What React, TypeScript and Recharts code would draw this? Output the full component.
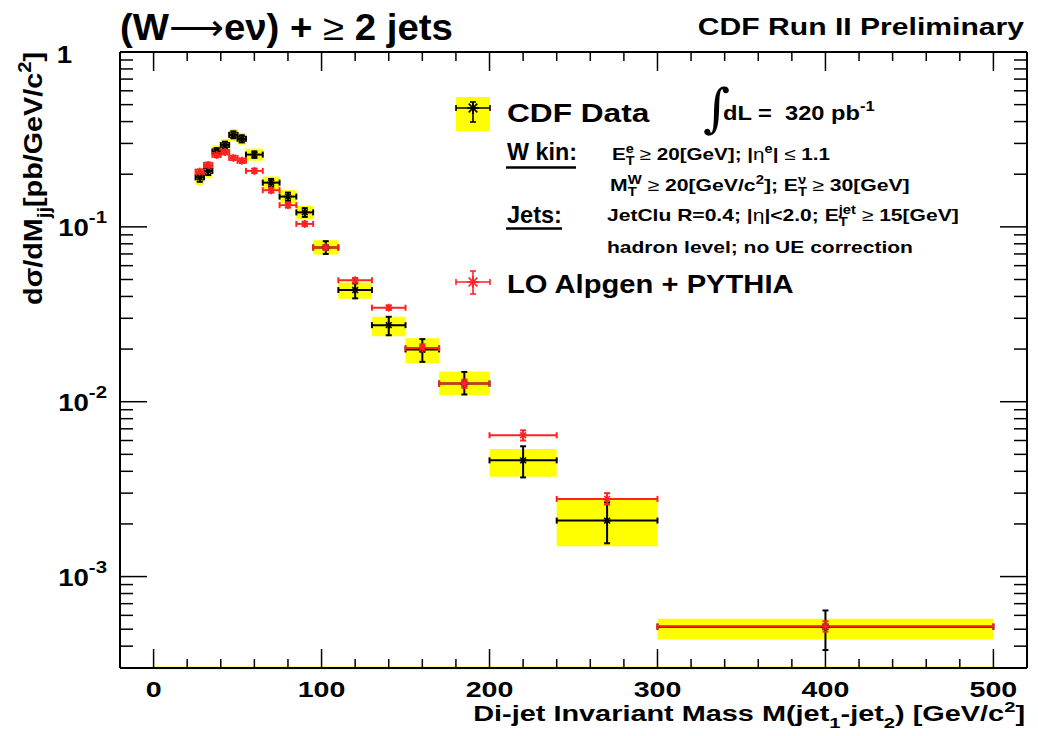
import React, { useLayoutEffect, useRef, useState } from 'react';
import { ComposedChart, Scatter, XAxis, YAxis, ErrorBar, ReferenceArea, ReferenceLine } from 'recharts';

const FONT = '"Liberation Sans", Arial, Helvetica, sans-serif';
const YELLOW = '#ffff00';
const RED = '#ff2222';

// ---- data ----
const binLow = [25, 30, 35, 40, 45, 50, 55, 65, 75, 85, 95, 110, 130, 150, 170, 200, 240, 300];
const binHigh = [30, 35, 40, 45, 50, 55, 65, 75, 85, 95, 110, 130, 150, 170, 200, 240, 300, 500];

const dataVal = [0.192, 0.209, 0.27, 0.294, 0.336, 0.319, 0.259, 0.179, 0.149, 0.121, 0.0762, 0.0435, 0.0274, 0.0199, 0.0127, 0.00462, 0.00209, 0.000516];
const dataStatLo = [0.181, 0.198, 0.258, 0.281, 0.321, 0.304, 0.248, 0.17, 0.141, 0.114, 0.07, 0.039, 0.024, 0.0169, 0.011, 0.00369, 0.00155, 0.00038];
const dataStatHi = [0.203, 0.22, 0.282, 0.307, 0.352, 0.334, 0.27, 0.188, 0.157, 0.128, 0.0828, 0.0475, 0.0306, 0.0228, 0.0148, 0.00556, 0.00265, 0.00064];
const dataSysLo = [0.174, 0.19, 0.25, 0.272, 0.311, 0.295, 0.239, 0.165, 0.137, 0.111, 0.0695, 0.0388, 0.0237, 0.0166, 0.0109, 0.00372, 0.00149, 0.000437];
const dataSysHi = [0.212, 0.228, 0.292, 0.318, 0.362, 0.344, 0.28, 0.194, 0.162, 0.132, 0.0839, 0.048, 0.0306, 0.0231, 0.0149, 0.00537, 0.00275, 0.000573];

const mcVal = [0.207, 0.226, 0.258, 0.268, 0.248, 0.239, 0.209, 0.162, 0.133, 0.104, 0.0762, 0.0495, 0.0345, 0.0203, 0.0127, 0.00643, 0.00278, 0.00052];
const mcLo = [0.201, 0.219, 0.25, 0.26, 0.241, 0.232, 0.203, 0.157, 0.129, 0.101, 0.074, 0.048, 0.0335, 0.0193, 0.012, 0.006, 0.00258, 0.000485];
const mcHi = [0.213, 0.233, 0.266, 0.276, 0.255, 0.246, 0.215, 0.167, 0.137, 0.107, 0.0785, 0.051, 0.0355, 0.0213, 0.0134, 0.00686, 0.003, 0.000555];

// ---- axes ----
const xDomain = [-20, 520];
const yDomain = [0.0003, 1];
const xMajorTicks = [0, 100, 200, 300, 400, 500];
const xTicks = [0, 20, 40, 60, 80, 100, 120, 140, 160, 180, 200, 220, 240, 260, 280, 300, 320, 340, 360, 380, 400, 420, 440, 460, 480, 500];
const yMajorTicks = [0.001, 0.01, 0.1, 1];
const yMajorExp = ['-3', '-2', '-1', ''];
const yTicks = [
  0.0003, 0.0004, 0.0005, 0.0006, 0.0007, 0.0008, 0.0009,
  0.001, 0.002, 0.003, 0.004, 0.005, 0.006, 0.007, 0.008, 0.009,
  0.01, 0.02, 0.03, 0.04, 0.05, 0.06, 0.07, 0.08, 0.09,
  0.1, 0.2, 0.3, 0.4, 0.5, 0.6, 0.7, 0.8, 0.9, 1,
];
const bandLine = [0, 500];

const dataRows = binLow.map((lo, i) => ({
  x: (lo + binHigh[i]) / 2,
  y: dataVal[i],
  ex: (binHigh[i] - lo) / 2,
  ey: [dataVal[i] - dataStatLo[i], dataStatHi[i] - dataVal[i]],
  x1: lo,
  x2: binHigh[i],
  s1: dataSysLo[i],
  s2: dataSysHi[i],
}));
const mcRows = binLow.map((lo, i) => ({
  x: (lo + binHigh[i]) / 2,
  y: mcVal[i],
  ex: (binHigh[i] - lo) / 2,
  ey: [mcVal[i] - mcLo[i], mcHi[i] - mcVal[i]],
}));

// ---- text helpers ----
type Seg = { t: string; s?: number; r?: number; dx?: number; w?: string; f?: string };

function Segs({ segs, size }: { segs: Seg[]; size: number }) {
  let prev = 0;
  return (
    <>
      {segs.map((g, i) => {
        const s = g.s ?? 0;
        const dy = (prev - s) * size;
        prev = s;
        return (
          <tspan key={i} dy={dy === 0 ? undefined : dy} dx={g.dx} fontSize={size * (g.r ?? 1)} fontWeight={g.w} fontFamily={g.f}>
            {g.t}
          </tspan>
        );
      })}
    </>
  );
}

function FitText({ x, y, width, anchor = 'start', size, rotate = 0, segs }: any) {
  const ref = useRef<SVGTextElement>(null);
  const [s, setS] = useState(1);
  useLayoutEffect(() => {
    if (width && ref.current) {
      const w = ref.current.getBBox().width;
      if (w > 0) setS(width / w);
    }
  }, [width]);
  return (
    <g transform={`translate(${x},${y}) rotate(${rotate}) scale(${s},1)`}>
      <text ref={ref} textAnchor={anchor} fontFamily={FONT} fontWeight="bold" fontSize={size} fill="#000" style={{ whiteSpace: 'pre' }}>
        <Segs segs={segs} size={size} />
      </text>
    </g>
  );
}

const sub = (t: string, size: number): Seg => ({ t, s: -0.32, r: 0.7 });
const supAfterSub = (t: string, subW: number, size: number): Seg => ({ t, s: 0.42, r: 0.7, dx: -subW * 0.7 * size });
const sup = (t: string): Seg => ({ t, s: 0.42, r: 0.7 });

// ---- markers ----
function Star({ cx, cy, color, r }: { cx: number; cy: number; color: string; r: number }) {
  const d = r * 0.72;
  return (
    <g stroke={color} strokeWidth={1.6}>
      <line x1={cx - r} x2={cx + r} y1={cy} y2={cy} />
      <line x1={cx} x2={cx} y1={cy - r} y2={cy + r} />
      <line x1={cx - d} x2={cx + d} y1={cy - d} y2={cy + d} />
      <line x1={cx - d} x2={cx + d} y1={cy + d} y2={cy - d} />
    </g>
  );
}

// ---- ticks ----
function LeftTick(props: any) {
  const { x, y, payload } = props;
  const v = payload.value as number;
  const idx = yMajorTicks.indexOf(v);
  const major = idx >= 0;
  return (
    <g>
      <line x1={x} x2={x + (major ? 27 : 13)} y1={y} y2={y} stroke="#000" strokeWidth={1.5} />
      {major &&
        (yMajorExp[idx] === '' ? (
          <g transform={`translate(${x - 48},${y + 11}) scale(1.2,1)`}>
            <text textAnchor="end" fontFamily={FONT} fontWeight="bold" fontSize={23} fill="#000">1</text>
          </g>
        ) : (
          <g transform={`translate(${x - 13},${y + 9}) scale(1.2,1)`}>
            <text textAnchor="end" fontFamily={FONT} fontWeight="bold" fontSize={23} fill="#000">
              10<tspan fontSize={17} dy={-13}>{yMajorExp[idx]}</tspan>
            </text>
          </g>
        ))}
    </g>
  );
}
function RightTick(props: any) {
  const { x, y, payload } = props;
  const major = yMajorTicks.includes(payload.value);
  return <line x1={x} x2={x - (major ? 27 : 13)} y1={y} y2={y} stroke="#000" strokeWidth={1.5} />;
}
function BottomTick(props: any) {
  const { x, y, payload } = props;
  const v = payload.value as number;
  const major = xMajorTicks.includes(v);
  return (
    <g>
      <line x1={x} x2={x} y1={y} y2={y - (major ? 19 : 9)} stroke="#000" strokeWidth={1.5} />
      {major && (
        <g transform={`translate(${x},${y + 29}) scale(1.3,1)`}>
          <text textAnchor="middle" fontFamily={FONT} fontWeight="bold" fontSize={22} fill="#000">{v}</text>
        </g>
      )}
    </g>
  );
}
function TopTick(props: any) {
  const { x, y, payload } = props;
  const major = xMajorTicks.includes(payload.value);
  return <line x1={x} x2={x} y1={y} y2={y + (major ? 19 : 9)} stroke="#000" strokeWidth={1.5} />;
}

const axisLine = { stroke: '#000', strokeWidth: 2 };

export default function App() {
  return (
    <div style={{ position: 'relative', width: 1038, height: 736, margin: -8, background: '#fff' }}>
      <ComposedChart width={1038} height={736} margin={{ top: 0, right: 0, bottom: 0, left: 0 }}>
        <XAxis xAxisId="b" type="number" dataKey="x" domain={xDomain} allowDataOverflow ticks={xTicks} interval={0}
          orientation="bottom" height={68} tickSize={0} tickMargin={0} tickLine={false} axisLine={axisLine} tick={<BottomTick />} />
        <XAxis xAxisId="t" type="number" dataKey="x" domain={xDomain} allowDataOverflow ticks={xTicks} interval={0}
          orientation="top" height={52} tickSize={0} tickMargin={0} tickLine={false} axisLine={axisLine} tick={<TopTick />} />
        <YAxis yAxisId="l" type="number" dataKey="y" scale="log" domain={yDomain} allowDataOverflow ticks={yTicks} interval={0}
          orientation="left" width={120} tickSize={0} tickMargin={0} tickLine={false} axisLine={axisLine} tick={<LeftTick />} />
        <YAxis yAxisId="r" type="number" dataKey="y" scale="log" domain={yDomain} allowDataOverflow ticks={yTicks} interval={0}
          orientation="right" width={11} tickSize={0} tickMargin={0} tickLine={false} axisLine={axisLine} tick={<RightTick />} />

        {dataRows.map((r, i) => (
          <ReferenceArea key={i} xAxisId="b" yAxisId="l" x1={r.x1} x2={r.x2} y1={r.s1} y2={r.s2}
            fill={YELLOW} fillOpacity={1} stroke="none" ifOverflow="visible" />
        ))}
        <ReferenceLine xAxisId="b" yAxisId="l" segment={[{ x: bandLine[0], y: yDomain[0] }, { x: bandLine[1], y: yDomain[0] }]}
          stroke={YELLOW} strokeWidth={3} ifOverflow="visible" />

        <Scatter xAxisId="t" yAxisId="r" data={dataRows} isAnimationActive={false} shape={() => <g />} />

        <Scatter xAxisId="b" yAxisId="l" data={dataRows} isAnimationActive={false}
          shape={(p: any) => <Star cx={p.cx} cy={p.cy} color="#000" r={4} />}>
          <ErrorBar dataKey="ex" direction="x" width={3} stroke="#000" strokeWidth={2} />
          <ErrorBar dataKey="ey" direction="y" width={3} stroke="#000" strokeWidth={2} />
        </Scatter>
        <Scatter xAxisId="b" yAxisId="l" data={mcRows} isAnimationActive={false}
          shape={(p: any) => <Star cx={p.cx} cy={p.cy} color={RED} r={4} />}>
          <ErrorBar dataKey="ex" direction="x" width={3} stroke={RED} strokeWidth={2} />
          <ErrorBar dataKey="ey" direction="y" width={3} stroke={RED} strokeWidth={2} />
        </Scatter>
      </ComposedChart>

      <svg width={1038} height={736} style={{ position: 'absolute', left: 0, top: 0, pointerEvents: 'none' }}>
        {/* titles */}
        <FitText x={120} y={40} width={333} size={36}
          segs={[{ t: '(W' }, { t: '⟶', w: 'normal', f: '"DejaVu Sans", sans-serif' }, { t: 'eν' }, { t: ') + ' },
            { t: '≥', w: 'normal' }, { t: ' 2 jets' }]} />
        <FitText x={1024} y={35} width={327} size={24} anchor="end" segs={[{ t: 'CDF Run II Preliminary' }]} />

        {/* axis titles */}
        <FitText x={1025} y={721} width={552} size={22} anchor="end"
          segs={[{ t: 'Di-jet Invariant Mass M(jet' }, sub('1', 22), { t: '-jet' }, sub('2', 22), { t: ') [GeV/c' }, sup('2'), { t: ']' }]} />
        <FitText x={42} y={52} width={253} size={26} anchor="end" rotate={-90}
          segs={[{ t: 'dσ/dM' }, sub('jj', 26), { t: '[pb/GeV/c' }, sup('2'), { t: ']' }]} />

        {/* legend: CDF data */}
        <rect x={456} y={97} width={34} height={34} fill={YELLOW} />
        <g stroke="#000" strokeWidth={1.6}>
          <line x1={456} x2={490} y1={108} y2={108} />
          <line x1={456} x2={456} y1={105} y2={111} />
          <line x1={490} x2={490} y1={105} y2={111} />
          <line x1={473} x2={473} y1={102} y2={122} />
          <line x1={470} x2={476} y1={102} y2={102} />
          <line x1={470} x2={476} y1={122} y2={122} />
        </g>
        <Star cx={473} cy={108} color="#000" r={6} />
        <FitText x={507} y={122} width={143} size={26} segs={[{ t: 'CDF Data' }]} />
        <text x={703} y={126} fontFamily='"DejaVu Serif", "Liberation Serif", serif' fontSize={52} fill="#000">∫</text>
        <FitText x={723} y={120} width={152} size={20} segs={[{ t: 'dL =  320 pb' }, { t: '-1', s: 0.45, r: 0.7 }]} />

        <FitText x={507} y={160} width={70} size={23} segs={[{ t: 'W kin:' }]} />
        <line x1={506} x2={576} y1={167.5} y2={167.5} stroke="#000" strokeWidth={2.5} />
        <FitText x={612} y={160} width={217} size={17}
          segs={[{ t: 'E' }, sub('T', 17), supAfterSub('e', 0.611, 17), { t: ' ' }, { t: '≥', w: 'normal' }, { t: ' 20[GeV]; |' },
            { t: 'η', w: 'normal' }, sup('e'), { t: '| ' }, { t: '≤', w: 'normal' }, { t: ' 1.1' }]} />
        <FitText x={610} y={191} width={300} size={17}
          segs={[{ t: 'M' }, sub('T', 17), supAfterSub('W', 0.611, 17), { t: ' ' }, { t: '≥', w: 'normal' }, { t: ' 20[GeV/c' }, sup('2'),
            { t: ']; E' }, sub('T', 17), supAfterSub('ν', 0.611, 17), { t: ' ' }, { t: '≥', w: 'normal' }, { t: ' 30[GeV]' }]} />
        <FitText x={507} y={223} width={55} size={23} segs={[{ t: 'Jets:' }]} />
        <line x1={506} x2={562} y1={228.5} y2={228.5} stroke="#000" strokeWidth={2.5} />
        <FitText x={607} y={221} width={352} size={17}
          segs={[{ t: 'JetClu R=0.4; |' }, { t: 'η', w: 'normal' }, { t: '|<2.0; E' }, sub('T', 17), supAfterSub('jet', 0.611, 17),
            { t: ' ' }, { t: '≥', w: 'normal' }, { t: ' 15[GeV]' }]} />
        <FitText x={607} y={253} width={306} size={17} segs={[{ t: 'hadron level; no UE correction' }]} />

        {/* legend: MC */}
        <g stroke={RED} strokeWidth={1.6}>
          <line x1={456} x2={490} y1={282} y2={282} />
          <line x1={456} x2={456} y1={279} y2={285} />
          <line x1={490} x2={490} y1={279} y2={285} />
          <line x1={473} x2={473} y1={271} y2={294} />
          <line x1={470} x2={476} y1={271} y2={271} />
          <line x1={470} x2={476} y1={294} y2={294} />
        </g>
        <Star cx={473} cy={282} color={RED} r={6} />
        <FitText x={507} y={293} width={287} size={26} segs={[{ t: 'LO Alpgen + PYTHIA' }]} />
      </svg>
    </div>
  );
}
